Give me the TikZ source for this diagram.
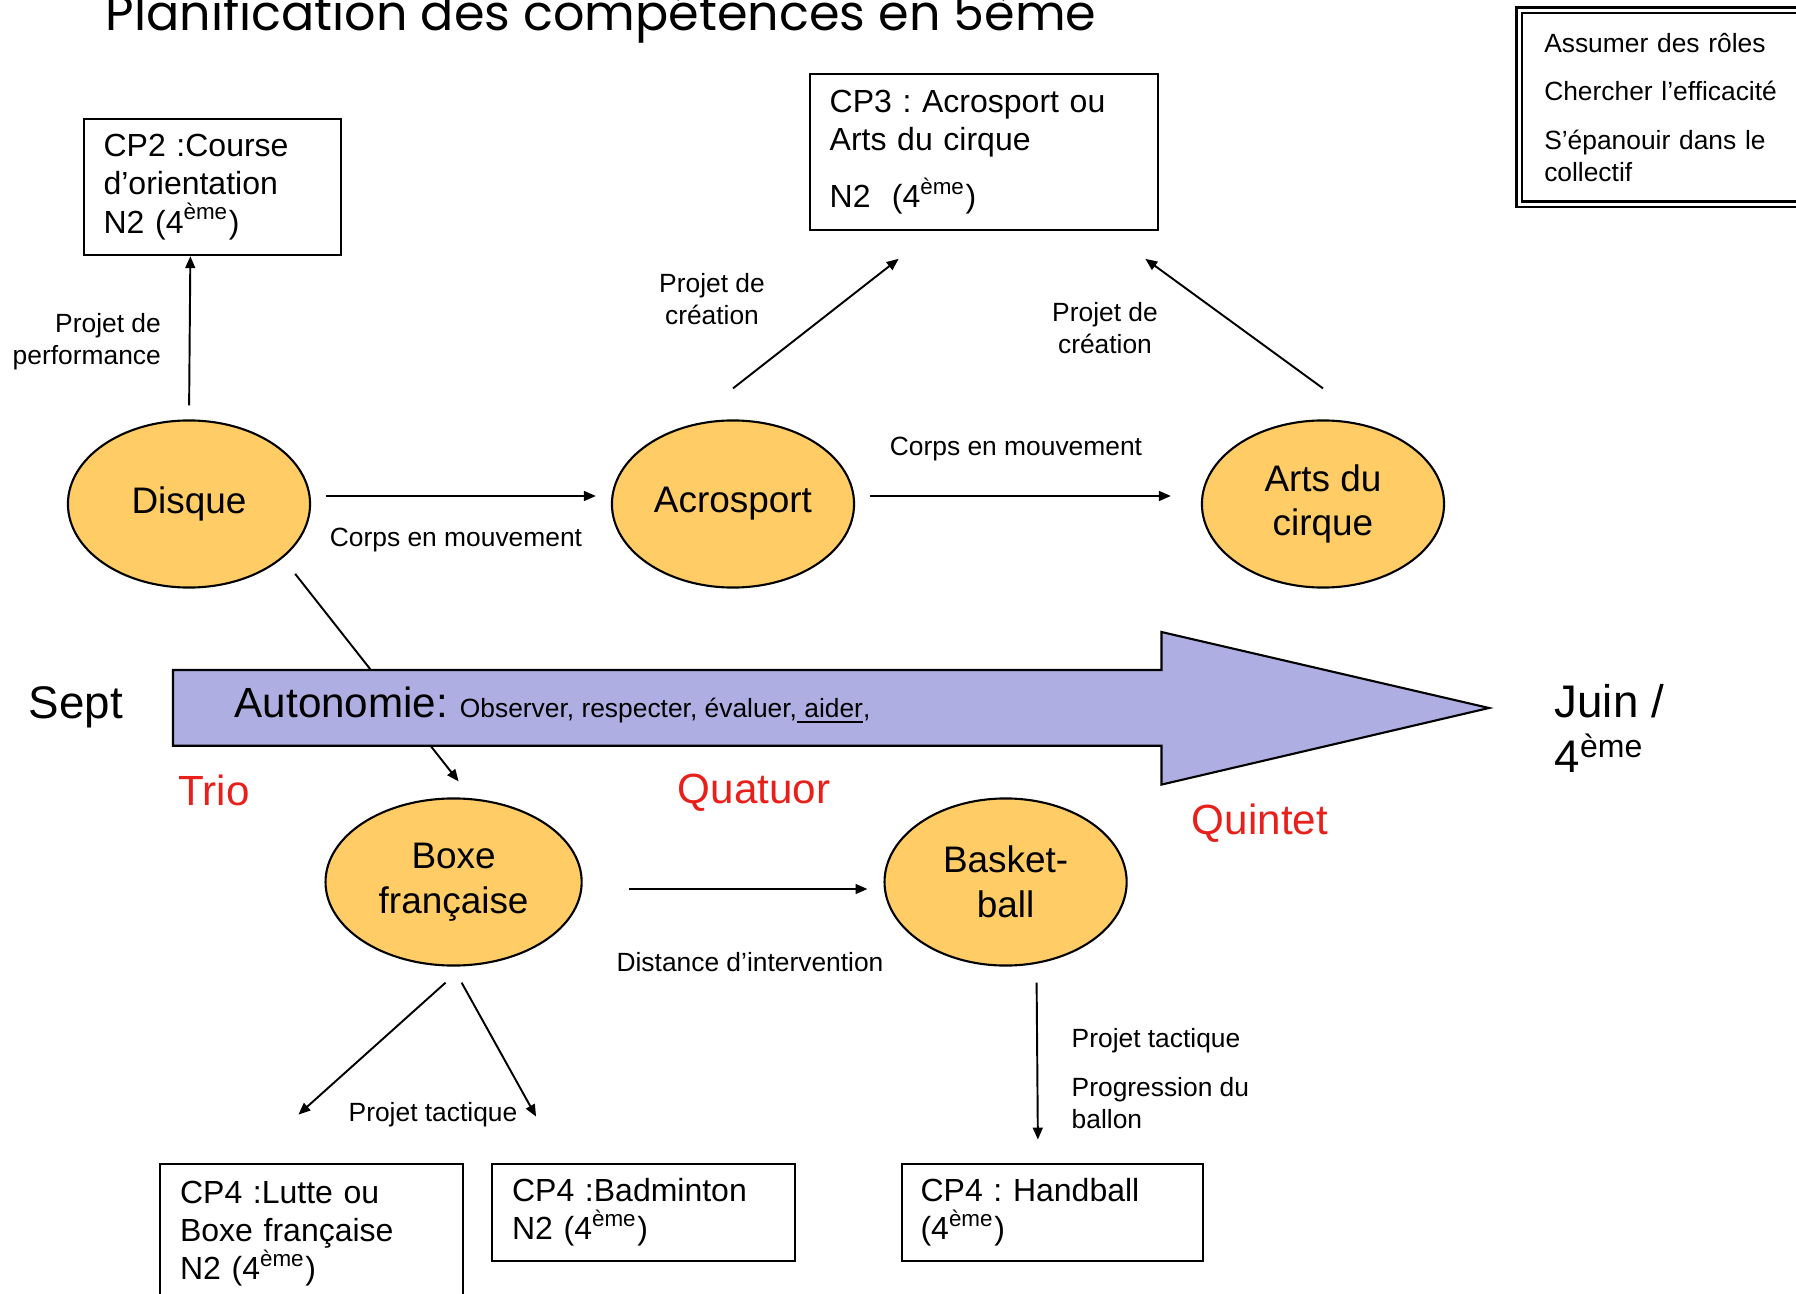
\documentclass[tikz,border=0pt]{standalone}
\usepackage{fontspec}
\setmainfont{Liberation Sans}
\newfontfamily\titlefont{Poppins}
\usetikzlibrary{shapes.geometric,arrows.meta}
\frenchspacing

\definecolor{sportfill}{RGB}{255,204,102}
\definecolor{timearrow}{RGB}{174,174,226}
\definecolor{groupred}{RGB}{232,32,28}

\tikzset{
    sport/.style={ellipse, draw=black, fill=sportfill, line width=0.6pt, inner sep=0pt,
        minimum width=2.42cm, minimum height=1.67cm, align=center,
        font=\fontsize{10.5}{12.7}\selectfont},
    cpbox/.style={draw, line width=0.6pt, anchor=north west, align=left,
        inner xsep=0.2cm, font=\fontsize{9.1}{10.9}\selectfont},
    lbl/.style={inner sep=0pt, font=\fontsize{7.5}{9.1}\selectfont},
    bigtxt/.style={font=\fontsize{13}{15.5}\selectfont},
    grouptxt/.style={text=groupred, font=\fontsize{12}{14}\selectfont},
    link/.style={->, line width=0.55pt},
}

\begin{document}
\begin{tikzpicture}[x=0.01cm, y=-0.01cm, >={Triangle[length=3.4pt,width=2.8pt]}]

    \useasboundingbox (0,0) rectangle (1796,1294);

    \node[anchor=base west, inner sep=0pt, font=\titlefont\fontsize{14}{16}\selectfont] (title) at (105,31) {Planification des compétences en 5ème};

    % boxes
    \node[cpbox, text width=2.175cm, minimum height=1.36cm] (cp2) at (82.5,118)
        {CP2 :Course\\d'orientation\\N2 (4\textsuperscript{ème})};
    \node[cpbox, text width=3.084cm, minimum height=1.56cm] (cp3) at (808.6,73)
        {CP3 : Acrosport ou\\Arts du cirque\\[5.3pt]N2~~(4\textsuperscript{ème})};
    \node[cpbox, lbl, inner sep=0.1cm, double, double distance=0.9pt, line width=0.7pt, inner xsep=0.25cm, text width=2.42cm, minimum height=1.94cm] (roles) at (1518,9)
        {Assumer des rôles\\[4.7pt]Chercher l'efficacité\\[4.7pt]S'épanouir dans le\\collectif};
    \node[cpbox, inner ysep=0.17cm, text width=2.626cm] (lutte) at (159,1162.6)
        {CP4 :Lutte ou\\Boxe française\\N2 (4\textsuperscript{ème})};
    \node[cpbox, text width=2.63cm, minimum height=0.974cm] (badminton) at (491,1162.6)
        {CP4 :Badminton\\N2 (4\textsuperscript{ème})};
    \node[cpbox, inner xsep=0.185cm, text width=2.635cm, minimum height=0.974cm] (handball) at (901,1162.6)
        {CP4 : Handball\\(4\textsuperscript{ème})};

    % activities
    \node[sport] (disque) at (189,504) {Disque};
    \node[sport] (acro) at (733,504) {Acrosport};
    \node[sport] (arts) at (1323,504) {Arts du\\cirque};
    \node[sport, minimum width=2.56cm] (boxe) at (453.6,882) {Boxe\\française};
    \node[sport] (basket) at (1005.6,882) {Basket-\\ball};

    \draw[link, shorten <=0.2cm] (disque.-30) -- ([shift={(0.05cm,0.16cm)}]boxe.north);

    % time line
    \filldraw[fill=timearrow, draw=black, line width=0.6pt] (173,670) -- (1161.5,670) -- (1161.5,632) -- (1489,708)
        -- (1161.5,784.6) -- (1161.5,745.7) -- (173,745.7) -- cycle;
    \node[anchor=base west, inner sep=0pt] (autonomie) at (234,717)
        {\fontsize{12}{14}\selectfont Autonomie: \fontsize{7.5}{9}\selectfont Observer, respecter, évaluer,\underline{\ aider},};
    \node[bigtxt] (sept) at (76,707) {Sept};
    \node[bigtxt, anchor=north west, align=left, inner sep=0pt] (juin) at (1554,684) {Juin /\\4\textsuperscript{ème}};

    \node[grouptxt] (trio) at (214,790) {Trio};
    \node[grouptxt] (quatuor) at (754,793) {Quatuor};
    \node[grouptxt] (quintet) at (1260,823) {Quintet};

    % links
    \draw[link, shorten <=0.14cm] (disque.north) -- ([xshift=-0.22cm]cp2.south);
    \draw[link] ([yshift=0.31cm]acro.north) -- ([shift={(0.9cm,-0.276cm)}]cp3.south west);
    \draw[link] ([yshift=0.31cm]arts.north) -- ([shift={(-0.14cm,-0.276cm)}]cp3.south east);
    \draw[link, shorten <=0.15cm, shorten >=0.15cm] ([yshift=0.08cm]disque.east) -- ([yshift=0.08cm]acro.west);
    \draw[link, shorten <=0.15cm, shorten >=0.3cm] ([yshift=0.08cm]acro.east) -- ([yshift=0.08cm]arts.west);
    \draw[link, shorten <=0.46cm, shorten >=0.16cm] ([yshift=-0.07cm]boxe.east) -- ([yshift=-0.07cm]basket.west);
    \draw[link] ([shift={(-0.08cm,-0.16cm)}]boxe.south) -- ([shift={(-0.13cm,0.48cm)}]lutte.north);
    \draw[link] ([shift={(0.08cm,-0.16cm)}]boxe.south) -- ([shift={(-1.075cm,0.46cm)}]badminton.north);
    \draw[link] ([shift={(0.31cm,-0.16cm)}]basket.south) -- ([shift={(-0.145cm,0.23cm)}]handball.north);

    % link labels
    \node[lbl, align=right, anchor=east] (perf) at (161.5,342) {Projet de\\performance};
    \node[lbl, align=center] (creation1) at (712,299) {Projet de\\création};
    \node[lbl, align=center] (creation2) at (1105,328) {Projet de\\création};
    \node[lbl] (corps1) at (456,540) {Corps en mouvement};
    \node[lbl] (corps2) at (1016,449) {Corps en mouvement};
    \node[lbl] (distance) at (750,962) {Distance d'intervention};
    \node[lbl] (tactique1) at (433,1115) {Projet tactique};
    \node[lbl, align=left, anchor=west] (tactique2) at (1071,1079)
        {Projet tactique\\[4.8pt]Progression du\\ballon};

\end{tikzpicture}
\end{document}
